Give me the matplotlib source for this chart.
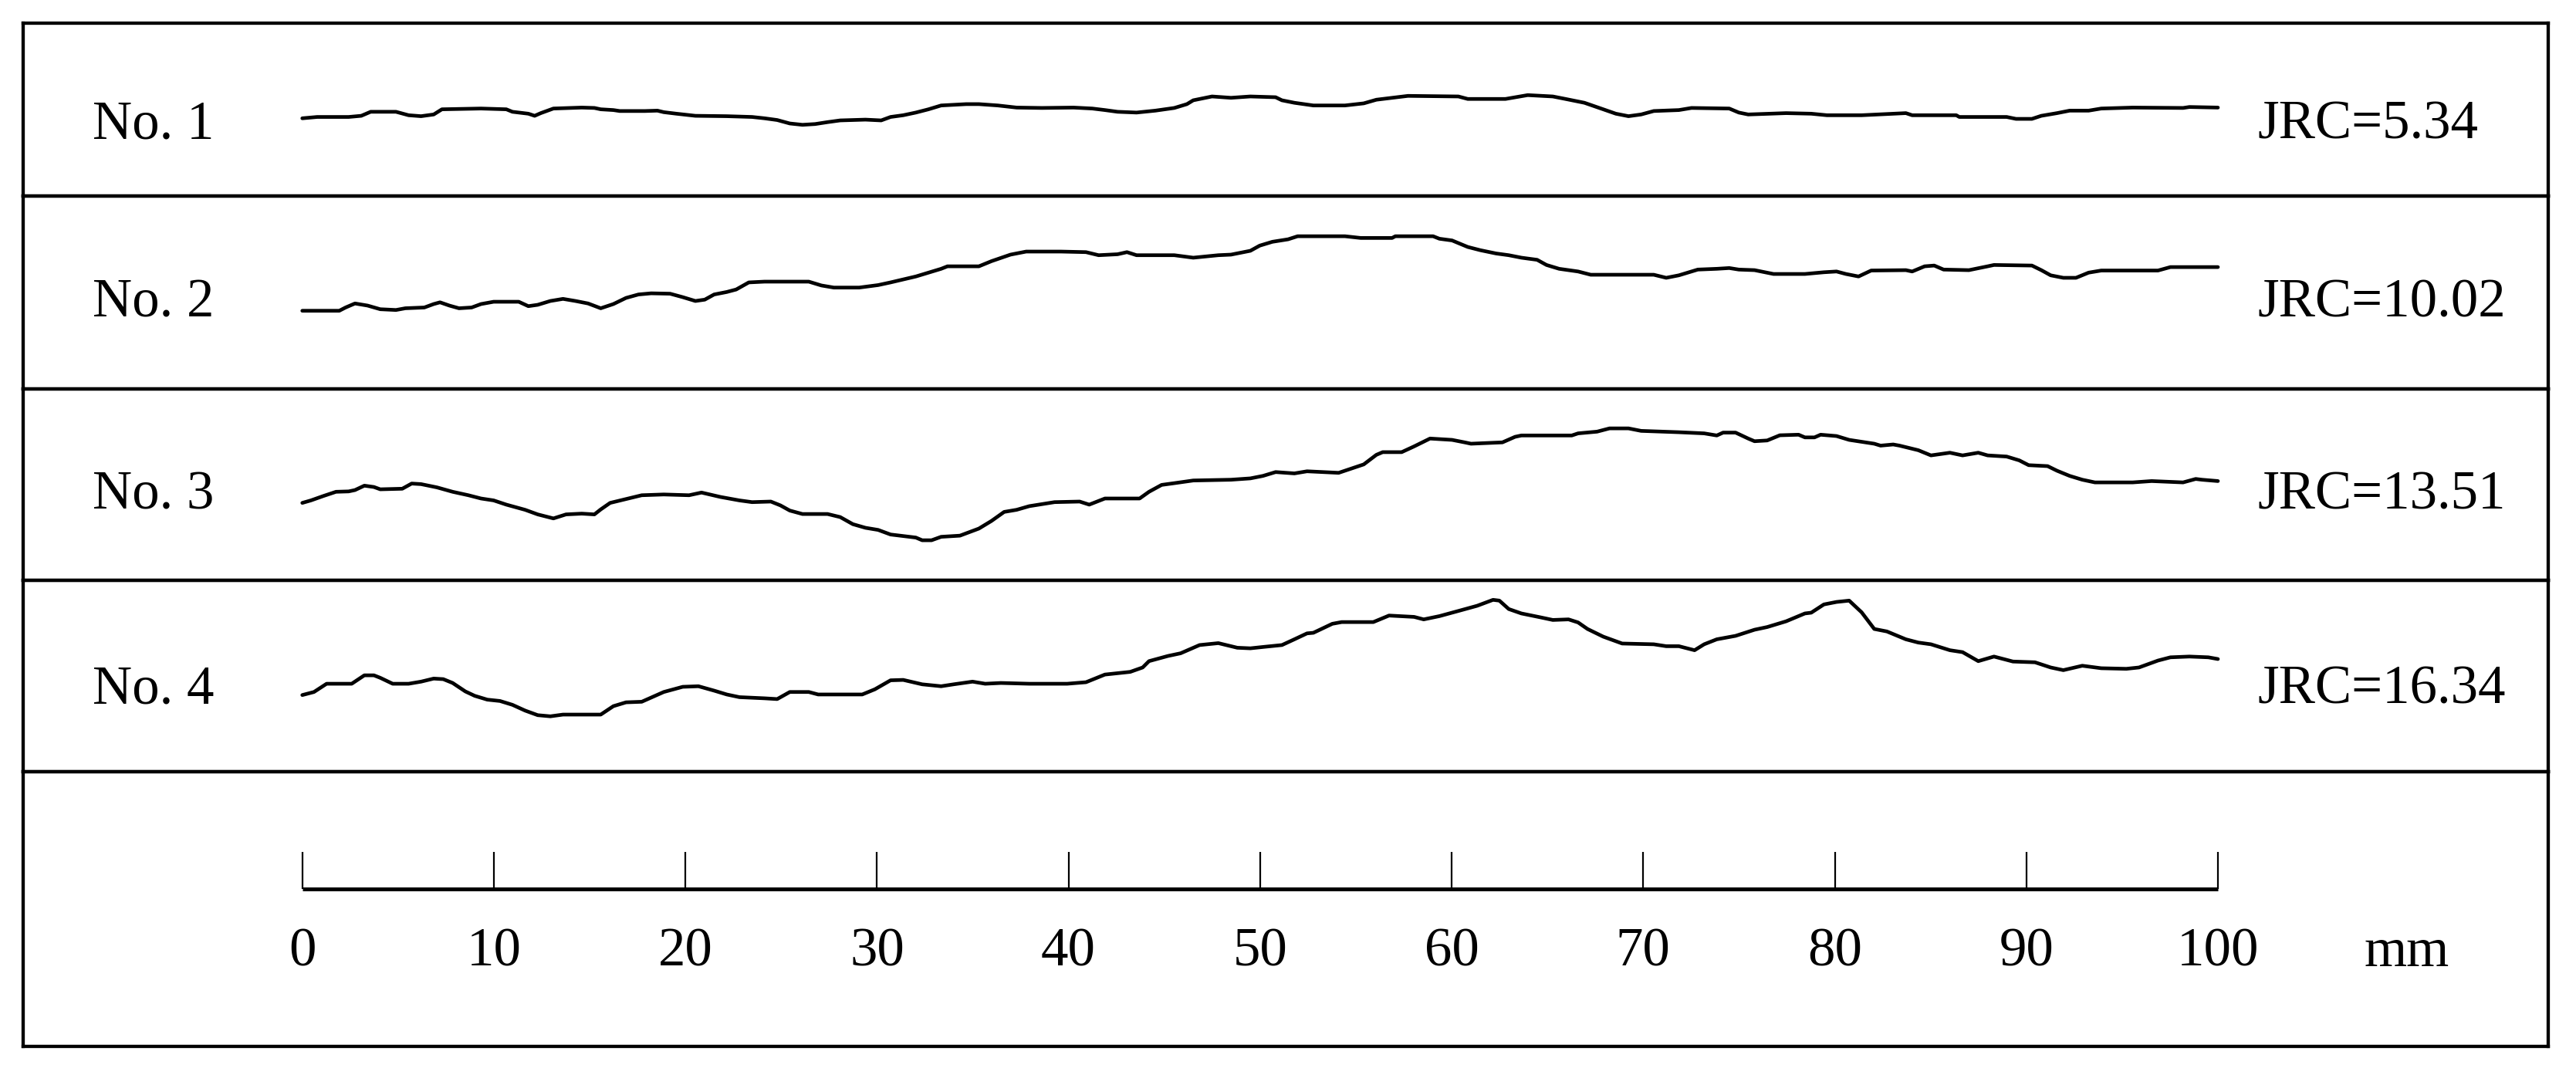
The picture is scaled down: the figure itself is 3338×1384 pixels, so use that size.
"""Roughness profiles of four joint samples (No. 1 - No. 4) with JRC values
and a 0-100 mm scale bar underneath."""

import numpy as np
import matplotlib
matplotlib.use("Agg")
import matplotlib.pyplot as plt


# --------------------------------------------------------------------- #
# Data: profile height (mm, relative to the first point) along x (mm)
# --------------------------------------------------------------------- #
no1_x = [0.0, 0.78, 2.42, 3.08, 3.57, 4.89, 5.55, 6.20, 6.86, 7.29, 9.33, 10.65, 10.97, 11.80,
         12.13, 12.45, 13.11, 14.59, 15.25, 15.58, 16.24, 16.57, 17.88, 18.54, 18.87, 19.53,
         20.52, 22.16, 23.48, 24.13, 24.79, 25.45, 26.11, 26.77, 27.42, 28.08, 29.40, 30.22,
         30.71, 31.37, 32.03, 32.69, 33.35, 34.66, 35.32, 36.31, 37.29, 38.61, 40.26, 41.24,
         41.90, 42.56, 43.55, 44.53, 45.52, 46.18, 46.51, 47.49, 48.48,
         49.49, 50.81, 51.14, 51.79, 52.78, 54.43, 55.41, 56.07, 57.72, 60.35, 60.84, 62.81,
         63.97, 65.28, 65.94, 66.93, 67.91, 68.57, 69.23, 69.89, 70.55, 71.86, 72.52, 74.49,
         74.99, 75.48, 77.46, 78.77, 79.59, 81.40, 83.71, 84.04, 86.34, 86.50, 88.97, 89.46,
         90.29, 90.78, 91.60, 92.26, 93.25, 93.91, 95.55, 98.18, 98.51, 100.0]
no1_h = [0, 0.07, 0.07, 0.13, 0.34, 0.34, 0.16, 0.11, 0.20, 0.47, 0.51, 0.47, 0.34, 0.24,
         0.13, 0.27, 0.51, 0.56, 0.54, 0.47, 0.43, 0.38, 0.38, 0.40, 0.32, 0.24,
         0.13, 0.11, 0.07, 0, -0.09, -0.27, -0.34, -0.30, -0.20, -0.11, -0.07, -0.11,
         0.07, 0.16, 0.30, 0.47, 0.67, 0.74, 0.74, 0.67, 0.56, 0.54, 0.56, 0.51,
         0.43, 0.34, 0.30, 0.40, 0.54, 0.74, 0.94, 1.14, 1.07,
         1.14, 1.10, 0.94, 0.81, 0.67, 0.67, 0.78, 0.97, 1.17, 1.14, 1.01, 1.01,
         1.21, 1.14, 1.01, 0.81, 0.47, 0.24, 0.11, 0.20, 0.38, 0.43, 0.54, 0.51,
         0.30, 0.20, 0.27, 0.24, 0.16, 0.16, 0.27, 0.16, 0.16, 0.07, 0.07, -0.03,
         -0.03, 0.13, 0.27, 0.40, 0.40, 0.51, 0.56, 0.54, 0.59, 0.56]

no2_x = [0, 1.93, 2.26, 2.75, 3.41, 4.07, 4.89, 5.38, 6.37, 6.86, 7.19, 7.68, 8.18, 8.84,
         9.33, 9.99, 11.30, 11.80, 12.29, 12.95, 13.61, 14.26, 14.92, 15.58, 16.24, 16.90,
         17.55, 18.21, 19.20, 19.86, 20.52, 21.01, 21.50, 22.16, 22.65, 23.31, 24.13, 26.44,
         27.10, 27.75, 29.07, 30.06, 30.71, 32.03, 33.35, 33.68, 35.32, 35.98, 36.97, 37.79,
         39.60, 40.91, 41.57, 42.56, 43.05, 43.55, 45.52, 46.51, 47.82, 48.48,
         49.49, 49.98, 50.64, 51.46, 51.96, 54.43, 55.25, 56.89, 57.06, 59.03, 59.36, 60.02,
         60.84, 61.50, 62.32, 62.98, 63.64, 64.46, 64.95, 65.61, 66.60, 67.26, 70.55, 71.20,
         71.86, 72.52, 72.85, 73.84, 74.49, 74.99, 75.81, 76.80, 78.44, 79.43, 80.09, 80.58,
         81.24, 81.90, 83.71, 84.04, 84.69, 85.19, 85.68, 87.00, 87.98, 88.31, 90.29, 90.78,
         91.27, 91.93, 92.59, 93.25, 93.91, 96.87, 97.52, 100.0]
no2_h = [0, 0, 0.17, 0.38, 0.27, 0.08, 0.04, 0.13, 0.17, 0.35, 0.44, 0.27, 0.13, 0.17,
         0.35, 0.47, 0.47, 0.24, 0.31, 0.51, 0.62, 0.51, 0.38, 0.13, 0.35, 0.67,
         0.85, 0.91, 0.89, 0.71, 0.51, 0.58, 0.85, 0.98, 1.11, 1.48, 1.52, 1.52,
         1.32, 1.21, 1.21, 1.34, 1.48, 1.79, 2.19, 2.32, 2.32, 2.59, 2.93, 3.09,
         3.09, 3.06, 2.90, 2.95, 3.06, 2.90, 2.90, 2.77, 2.90, 2.93,
         3.13, 3.40, 3.60, 3.73, 3.89, 3.89, 3.80, 3.80, 3.89, 3.89, 3.76, 3.67,
         3.33, 3.16, 2.99, 2.90, 2.77, 2.66, 2.39, 2.19, 2.05, 1.88, 1.88, 1.72,
         1.85, 2.05, 2.15, 2.19, 2.23, 2.15, 2.12, 1.92, 1.92, 2.01, 2.05, 1.92,
         1.79, 2.10, 2.12, 2.05, 2.32, 2.36, 2.15, 2.12, 2.32, 2.39, 2.36, 2.12,
         1.85, 1.72, 1.72, 1.99, 2.10, 2.10, 2.28, 2.28]

no3_x = [0, 0.45, 1.10, 1.76, 2.42, 2.75, 3.24, 3.74, 4.07, 5.22, 5.71, 6.20, 7.03, 7.85,
         8.67, 9.33, 9.99, 10.65, 11.63, 12.29, 13.11, 13.77, 14.59, 15.25, 15.58, 16.07,
         16.90, 17.72, 18.87, 20.19, 20.84, 21.83, 22.82, 23.48, 24.46, 24.96, 25.45, 26.11,
         27.42, 28.08, 28.74, 29.40, 30.06, 30.71, 32.03, 32.36, 32.85, 33.35, 34.33, 35.32,
         35.98, 36.64, 37.29, 37.95, 39.27, 40.58, 41.08, 41.90, 43.22, 43.71, 44.20, 44.86,
         45.52, 46.51, 48.48,
         49.49, 50.15, 50.81, 51.79, 52.45, 54.10, 54.75, 55.41, 56.07, 56.40, 57.39, 58.04,
         58.87, 60.02, 60.68, 61.01, 62.65, 63.31, 63.64, 66.27, 66.60, 67.59, 68.24, 69.23,
         69.89, 71.86, 73.18, 73.84, 74.17, 74.82, 75.48, 75.81, 76.47, 77.13, 78.11, 78.44,
         78.94, 79.26, 80.09, 80.75, 82.06, 82.39, 83.05, 83.38, 84.36, 85.02, 86.01, 86.67,
         87.49, 87.98, 88.97, 89.63, 90.12, 91.11, 91.60, 92.26, 92.92, 93.58, 95.55, 96.54,
         98.18, 98.84, 99.17, 100.0]
no3_h = [0, 0.13, 0.36, 0.58, 0.60, 0.67, 0.90, 0.83, 0.71, 0.74, 1.01, 0.98, 0.81, 0.58,
         0.40, 0.23, 0.13, -0.09, -0.36, -0.60, -0.81, -0.60, -0.56, -0.60, -0.34, 0,
         0.20, 0.40, 0.44, 0.40, 0.54, 0.31, 0.13, 0.04, 0.07, -0.13, -0.40, -0.58,
         -0.58, -0.74, -1.11, -1.30, -1.41, -1.65, -1.81, -1.95, -1.95, -1.77, -1.71, -1.34,
         -0.94, -0.47, -0.36, -0.17, 0.04, 0.07, -0.09, 0.23, 0.23, 0.23, 0.58, 0.94,
         1.03, 1.17, 1.21,
         1.28, 1.41, 1.61, 1.54, 1.65, 1.57, 1.79, 2.01, 2.51, 2.65, 2.65, 2.95,
         3.36, 3.29, 3.16, 3.09, 3.16, 3.45, 3.52, 3.52, 3.63, 3.72, 3.89, 3.89,
         3.76, 3.69, 3.63, 3.52, 3.67, 3.67, 3.36, 3.22, 3.26, 3.53, 3.56, 3.42,
         3.42, 3.56, 3.49, 3.29, 3.09, 2.99, 3.05, 2.99, 2.75, 2.48, 2.62, 2.48,
         2.62, 2.48, 2.42, 2.22, 1.97, 1.92, 1.68, 1.41, 1.21, 1.07, 1.07, 1.14,
         1.07, 1.25, 1.21, 1.14]

no4_x = [0, 0.61, 1.27, 2.58, 3.24, 3.74, 4.07, 4.72, 5.55, 6.20, 6.86, 7.36, 7.85, 8.51,
         9.00, 9.66, 10.32, 10.97, 11.63, 12.29, 12.95, 13.61, 15.58, 16.24, 16.90, 17.72,
         18.87, 19.86, 20.68, 21.50, 22.16, 22.82, 24.13, 24.79, 25.45, 26.44, 26.93, 29.23,
         29.89, 30.71, 31.37, 32.36, 33.35, 34.00, 34.99, 35.65, 36.47, 37.95, 39.93, 40.91,
         41.90, 43.22, 43.87, 44.20, 45.19, 45.85, 46.84, 47.82, 48.81,
         49.49, 50.15, 51.14, 51.79, 52.45, 52.78, 53.77, 54.26, 55.91, 56.73, 58.04, 58.54,
         59.36, 60.35, 61.33, 62.16, 62.49, 62.98, 63.64, 64.62, 65.28, 66.10, 66.60, 67.09,
         67.91, 68.90, 70.55, 71.20, 71.86, 72.68, 73.18, 73.84, 74.82, 75.81, 76.47, 77.46,
         78.44, 78.77, 79.43, 80.09, 80.75, 81.40, 82.06, 82.72, 83.71, 84.36, 85.02, 86.01,
         86.67, 87.49, 88.31, 89.30, 90.45, 91.27, 91.93, 92.92, 93.91, 95.22, 95.88, 96.87,
         97.52, 98.51, 99.50, 100.0]
no4_h = [0, 0.16, 0.59, 0.59, 1.03, 1.03, 0.90, 0.59, 0.59, 0.70, 0.86, 0.83, 0.63, 0.19,
         -0.04, -0.24, -0.31, -0.51, -0.81, -1.05, -1.11, -1.02, -1.02, -0.58, -0.38, -0.35,
         0.16, 0.43, 0.46, 0.23, 0.03, -0.11, -0.17, -0.21, 0.16, 0.16, 0.03, 0.03,
         0.30, 0.77, 0.79, 0.56, 0.46, 0.56, 0.70, 0.59, 0.63, 0.59, 0.59, 0.67,
         1.07, 1.21, 1.44, 1.77, 2.04, 2.18, 2.61, 2.71, 2.47,
         2.44, 2.51, 2.61, 2.91, 3.22, 3.25, 3.72, 3.81, 3.81, 4.15, 4.08, 3.95,
         4.12, 4.39, 4.66, 4.97, 4.93, 4.49, 4.26, 4.06, 3.92, 3.95, 3.79, 3.45,
         3.05, 2.69, 2.65, 2.55, 2.55, 2.34, 2.65, 2.91, 3.09, 3.41, 3.55, 3.85,
         4.26, 4.30, 4.73, 4.86, 4.93, 4.32, 3.45, 3.32, 2.91, 2.74, 2.65, 2.34,
         2.24, 1.77, 2.01, 1.75, 1.71, 1.44, 1.30, 1.53, 1.40, 1.37, 1.44, 1.80,
         1.97, 2.01, 1.97, 1.88]

sample_names = ["No. 1", "No. 2", "No. 3", "No. 4"]
jrc_values = [5.34, 10.02, 13.51, 16.34]
scale_ticks = [0, 10, 20, 30, 40, 50, 60, 70, 80, 90, 100]
scale_unit = "mm"

profiles = [(no1_x, no1_h), (no2_x, no2_h), (no3_x, no3_h), (no4_x, no4_h)]


# --------------------------------------------------------------------- #
# Layout (pixels of the 3338 x 1384 output)
# --------------------------------------------------------------------- #
W_PX, H_PX = 3338, 1384
X0_PX, X100_PX = 391.7, 2874.0          # where 0 mm and 100 mm fall
PX_PER_MM = (X100_PX - X0_PX) / 100.0
FRAME_L, FRAME_R = 29.5, 3301.5
ROW_EDGES = [30.0, 254.0, 504.0, 751.5, 999.5, 1356.0]
START_Y = [153.3, 402.7, 651.7, 900.7]   # pixel row of each profile's first point
LABEL_BASE = [180.0, 410.0, 659.0, 911.0]
NAME_X, JRC_X = 120.0, 2925.0

FONT = dict(family="Liberation Serif", size=51, color="black")
FRAME_LW = 3.1
LINE_LW = 3.4

fig = plt.figure(figsize=(W_PX / 100, H_PX / 100), dpi=100)


def px_to_mm_x(px):
    return (px - X0_PX) / PX_PER_MM


def add_panel(top_px, bottom_px, ref_px):
    """One framed row; data units are mm with y=0 at pixel row ref_px."""
    ax = fig.add_axes([FRAME_L / W_PX, 1 - bottom_px / H_PX,
                       (FRAME_R - FRAME_L) / W_PX, (bottom_px - top_px) / H_PX])
    ax.set_xlim(px_to_mm_x(FRAME_L), px_to_mm_x(FRAME_R))
    ax.set_ylim(-(bottom_px - ref_px) / PX_PER_MM, (ref_px - top_px) / PX_PER_MM)
    ax.set_xticks([])
    ax.set_yticks([])
    for sp in ax.spines.values():
        sp.set_linewidth(FRAME_LW)
        sp.set_color("black")
    ax.set_facecolor("none")
    return ax


for i, ((x, h), name, jrc) in enumerate(zip(profiles, sample_names, jrc_values)):
    ax = add_panel(ROW_EDGES[i], ROW_EDGES[i + 1], START_Y[i])
    ax.plot(np.asarray(x), np.asarray(h), color="black", lw=LINE_LW,
            solid_joinstyle="round", solid_capstyle="round")
    ty = (START_Y[i] - LABEL_BASE[i]) / PX_PER_MM
    ax.text(px_to_mm_x(NAME_X), ty, name, ha="left", va="baseline", **FONT)
    ax.text(px_to_mm_x(JRC_X), ty, f"JRC={jrc:.2f}", ha="left", va="baseline", **FONT)

# scale bar
RULER_Y = 1152.0
ax_r = add_panel(ROW_EDGES[4], ROW_EDGES[5], RULER_Y)
tick_len = 48.0 / PX_PER_MM
ax_r.hlines(0, scale_ticks[0], scale_ticks[-1], color="black", lw=3.6, capstyle="butt")
ax_r.vlines(scale_ticks, 0, tick_len, color="black", lw=1.6)
label_y = -(1252.0 - RULER_Y) / PX_PER_MM
for t in scale_ticks:
    ax_r.text(t, label_y, str(t), ha="center", va="baseline", **FONT)
ax_r.text(px_to_mm_x(3119.0), label_y, scale_unit, ha="center", va="baseline", **FONT)

fig.savefig("out.png", dpi=100, facecolor="white")
